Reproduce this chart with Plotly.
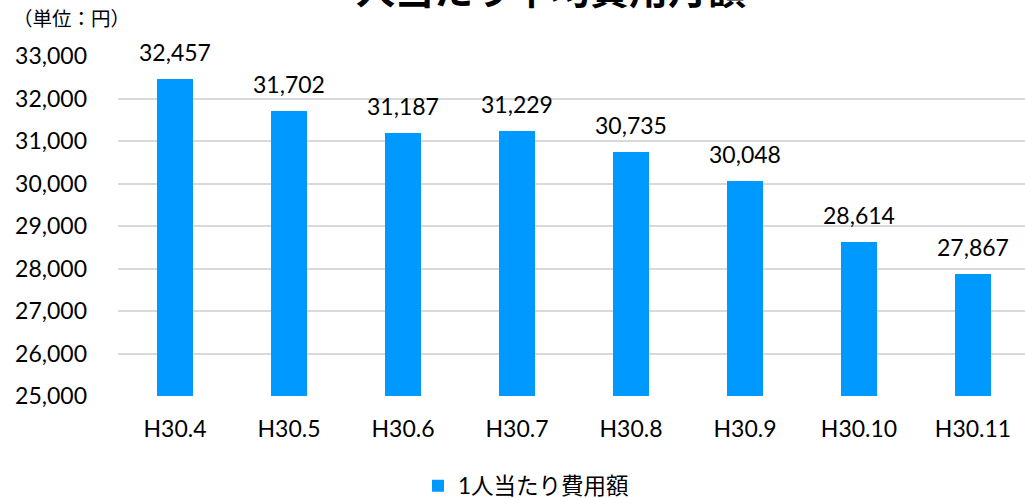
import plotly.graph_objects as go

categories = ["H30.4", "H30.5", "H30.6", "H30.7", "H30.8", "H30.9", "H30.10", "H30.11"]
values = [32457, 31702, 31187, 31229, 30735, 30048, 28614, 27867]
series_name = "1人当たり費用額"
title_text = "一人当たり平均費用月額"
unit_text = "（単位：円）"
y_ticks = [25000, 26000, 27000, 28000, 29000, 30000, 31000, 32000, 33000]

FONT = "Lato, 'Noto Sans CJK JP', sans-serif"
JP = "'Noto Sans CJK JP', sans-serif"

fig = go.Figure()
fig.add_trace(go.Bar(
    x=categories, y=values, name=series_name,
    marker=dict(color="#0099FF", line=dict(width=0)),
    width=0.316,
))

for c, v in zip(categories, values):
    fig.add_annotation(x=c, y=v, text=f"{v:,}", showarrow=False,
                       yanchor="middle", yshift=27,
                       font=dict(family=FONT, size=23, color="#000000"))

fig.add_annotation(xref="paper", yref="paper", x=(11 - 118) / 907, y=1 + (56 - 18) / 340,
                   xanchor="left", yanchor="middle", showarrow=False, text=unit_text,
                   font=dict(family=JP, size=19.5, color="#000000"))

# chart title (mostly above the visible frame, as in the reference)
fig.add_annotation(xref="paper", yref="paper", x=(531 - 118) / 907, y=1 + (56 - 17) / 340,
                   xanchor="center", yanchor="bottom", showarrow=False, text="<b>" + title_text + "</b>",
                   font=dict(family=JP, size=39, color="#000000"))

fig.update_layout(
    width=1025, height=498,
    margin=dict(l=118, r=0, t=56, b=102, autoexpand=False),
    paper_bgcolor="white", plot_bgcolor="white",
    showlegend=True,
    legend=dict(orientation="h", x=(526 - 118) / 907, xanchor="center",
                y=-(486 - 396) / 340, yanchor="middle",
                font=dict(family=FONT, size=22.5, color="#000000"),
                itemwidth=30),
    xaxis=dict(range=[-0.5, 7.456], showgrid=False, showline=False, ticks="",
               tickfont=dict(family=FONT, size=23, color="#000000"),
               ticklabelstandoff=17),
    yaxis=dict(range=[25000, 33000], tickvals=y_ticks, tickformat=",",
               showgrid=True, gridcolor="#d9d9d9", gridwidth=1.5,
               zeroline=False, showline=False, ticks="",
               tickfont=dict(family=FONT, size=23, color="#000000"),
               ticklabelstandoff=30),
    bargap=0,
)

fig.write_html("out.html", config={"displayModeBar": False},
               post_script="document.body.style.margin='0';document.body.style.padding='0';document.body.style.overflow='hidden';")
